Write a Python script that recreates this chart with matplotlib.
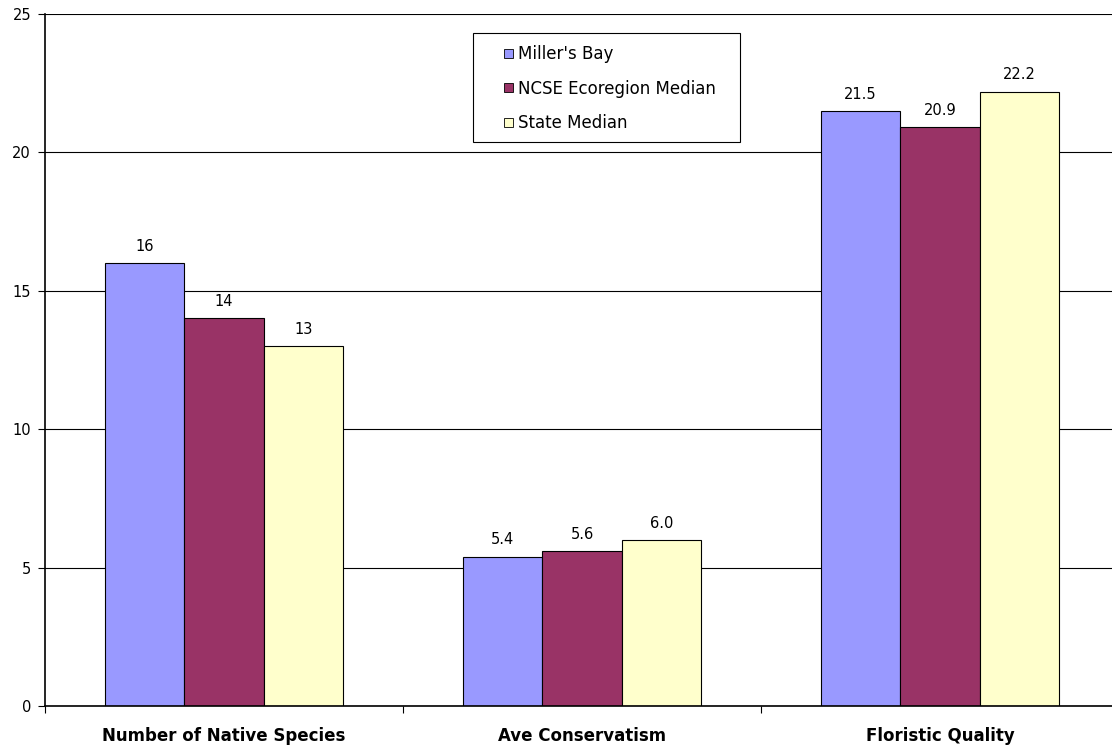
import numpy as np
import matplotlib.pyplot as plt
from matplotlib.patches import Rectangle
from matplotlib.legend_handler import HandlerPatch

plt.rcParams['font.family'] = ['DejaVu Sans']

categories = ['Number of Native Species', 'Ave Conservatism', 'Floristic Quality']
series = ["Miller's Bay", 'NCSE Ecoregion Median', 'State Median']
millers_bay = [16, 5.4, 21.5]
ncse_median = [14, 5.6, 20.9]
state_median = [13, 6.0, 22.2]
labels = [['16', '5.4', '21.5'], ['14', '5.6', '20.9'], ['13', '6.0', '22.2']]
colors = ['#9999FF', '#993366', '#FFFFCC']

fig = plt.figure(figsize=(11.12, 7.46), dpi=100)
ax = fig.add_axes([45 / 1112, 40 / 746, 1074 / 1112, 692 / 746])

x = np.arange(len(categories))
width = 0.222
for i, vals in enumerate([millers_bay, ncse_median, state_median]):
    bars = ax.bar(x + (i - 1) * width, vals, width, color=colors[i],
                  edgecolor='black', linewidth=0.8, zorder=2)
    for b, txt in zip(bars, labels[i]):
        ax.text(b.get_x() + b.get_width() / 2, b.get_height() + 0.33, txt,
                ha='center', va='bottom', fontsize=10.5)

ax.set_xlim(-0.5, 2.5)
ax.set_ylim(0, 25)
ax.set_yticks([0, 5, 10, 15, 20, 25])
ax.yaxis.grid(True, color='black', linewidth=0.8, zorder=0)
ax.set_axisbelow(True)

# category boundaries carry the x ticks, names sit between them
ax.set_xticks([-0.5, 0.5, 1.5, 2.5])
ax.set_xticklabels([])
ax.set_xticks(x, minor=True)
ax.set_xticklabels(categories, minor=True, fontweight='bold', fontsize=12)
ax.tick_params(axis='x', which='minor', length=0, pad=15)
ax.tick_params(axis='x', which='major', length=5, direction='out')
ax.tick_params(axis='y', length=5, direction='out', labelsize=10.5, pad=5)

for s in ['top', 'right']:
    ax.spines[s].set_visible(False)
ax.spines['left'].set_linewidth(1.2)
ax.spines['bottom'].set_linewidth(1.2)


# small square swatch pushed to the right end of the handle box
def square_swatch(legend, orig_handle, xdescent, ydescent, width, height, fontsize):
    side = 0.55 * fontsize
    return Rectangle((width - side - xdescent, height / 2 - side / 2 - ydescent), side, side)


handles = [Rectangle((0, 0), 1, 1, facecolor=c, edgecolor='black', linewidth=0.6)
           for c in colors]
leg = ax.legend(handles, series, loc='upper left',
                bbox_to_anchor=(438 / 1074, 1 - 31 / 692),
                fontsize=12, frameon=False,
                handlelength=1.8, handleheight=0.7, handletextpad=0.3,
                labelspacing=1.0, borderpad=0, borderaxespad=0,
                handler_map={Rectangle: HandlerPatch(patch_func=square_swatch)})

ax.add_patch(Rectangle((428 / 1074, 1 - 128 / 692), 267 / 1074, 109 / 692,
                       transform=ax.transAxes, facecolor='white', edgecolor='black',
                       linewidth=0.8, zorder=4))
leg.set_zorder(5)

fig.savefig('out.png', dpi=100)
